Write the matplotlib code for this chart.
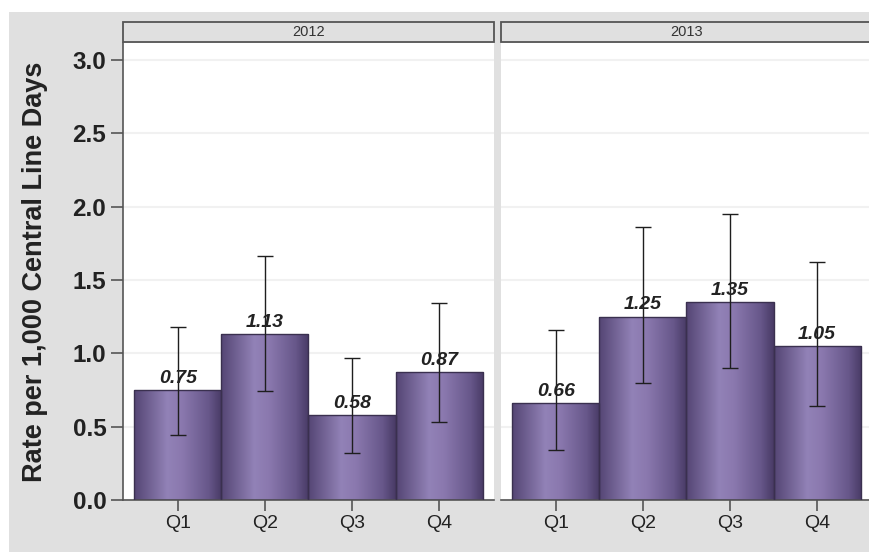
import numpy as np
import matplotlib
matplotlib.use("Agg")
import matplotlib.pyplot as plt
from matplotlib.colors import LinearSegmentedColormap
from matplotlib.patches import Rectangle

plt.rcParams['font.family'] = ['Liberation Sans', 'DejaVu Sans']

# Data
years = ['2012', '2013']
quarters = ['Q1', 'Q2', 'Q3', 'Q4']
rate_2012 = [0.75, 1.13, 0.58, 0.87]
lower_2012 = [0.44, 0.74, 0.32, 0.53]
upper_2012 = [1.18, 1.66, 0.97, 1.34]
rate_2013 = [0.66, 1.25, 1.35, 1.05]
lower_2013 = [0.34, 0.80, 0.90, 0.64]
upper_2013 = [1.16, 1.86, 1.95, 1.62]

panels = [(rate_2012, lower_2012, upper_2012), (rate_2013, lower_2013, upper_2013)]

# horizontal shading of each bar: dark edges, light centre
bar_cmap = LinearSegmentedColormap.from_list(
    'bar', [(0.0, '#544574'), (0.38, '#9282b7'), (0.55, '#8a78ae'),
            (0.85, '#67578a'), (1.0, '#483a65')])
grad = np.linspace(0, 1, 256).reshape(1, -1)

fig = plt.figure(figsize=(8.7, 5.52), dpi=100, facecolor='white')
fig.patches.append(Rectangle((9 / 870, 0), 1, 540 / 552, transform=fig.transFigure,
                             facecolor='#e0e0e0', edgecolor='none', zorder=-10))

ax_left = fig.add_axes([123 / 870, 52 / 552, 371 / 870, 457 / 552])
ax_right = fig.add_axes([501 / 870, 52 / 552, 371 / 870, 457 / 552])

x = np.arange(len(quarters))
for ax, year, (vals, lo, hi) in zip([ax_left, ax_right], years, panels):
    vals = np.array(vals)
    lo = np.array(lo)
    hi = np.array(hi)
    bars = ax.bar(x, vals, width=1.0, facecolor='none', edgecolor='#3a304f',
                  linewidth=1, zorder=3)
    for b in bars:
        x0, y0 = b.get_x(), b.get_y()
        im = ax.imshow(grad, extent=[x0, x0 + b.get_width(), y0, y0 + b.get_height()],
                       aspect='auto', cmap=bar_cmap, zorder=2, interpolation='bicubic')
        im.set_clip_path(b)
    ax.errorbar(x, vals, yerr=[vals - lo, hi - vals], fmt='none', ecolor='#1e1e1e',
                elinewidth=1, capsize=5.5, capthick=1, zorder=4)
    for xi, v in zip(x, vals):
        ax.text(xi, v + 0.05, f'{v:.2f}', ha='center', va='baseline', fontsize=14,
                fontweight='bold', style='italic', color='#222222', zorder=5)

    ax.set_xlim(-0.63, 3.63)
    ax.set_ylim(0, 3.115)
    ax.set_yticks([0, 0.5, 1.0, 1.5, 2.0, 2.5, 3.0])
    ax.set_xticks(x)
    ax.set_xticklabels(quarters, fontsize=14, color='#222222')
    ax.yaxis.grid(True, color='#f1f1f1', linewidth=1.5)
    ax.set_axisbelow(True)
    ax.tick_params(axis='x', length=8, width=1.2, color='#555555', pad=3)
    for s in ['top', 'right']:
        ax.spines[s].set_visible(False)
    ax.spines['bottom'].set_color('#555555')
    ax.spines['bottom'].set_linewidth(1.2)

    # panel strip
    ax.add_patch(Rectangle((0, 1.003), 1, 0.043, transform=ax.transAxes, clip_on=False,
                           facecolor='#e0e0e0', edgecolor='#555555', linewidth=1.3))
    ax.text(0.5, 1.0245, year, transform=ax.transAxes, ha='center', va='center',
            fontsize=10.5, color='#333333')

ax_left.spines['left'].set_color('#555555')
ax_left.spines['left'].set_linewidth(1.2)
ax_left.tick_params(axis='y', length=9, width=1.2, color='#555555', pad=3)
ax_left.set_yticklabels(['0.0', '0.5', '1.0', '1.5', '2.0', '2.5', '3.0'],
                        fontsize=17.5, fontweight='bold', color='#222222')
ax_left.set_ylabel('Rate per 1,000 Central Line Days', fontsize=19.5,
                   fontweight='bold', color='#222222', labelpad=18)

ax_right.spines['left'].set_visible(False)
ax_right.tick_params(axis='y', left=False, labelleft=False)

fig.savefig('out.png', dpi=100, facecolor=fig.get_facecolor())
